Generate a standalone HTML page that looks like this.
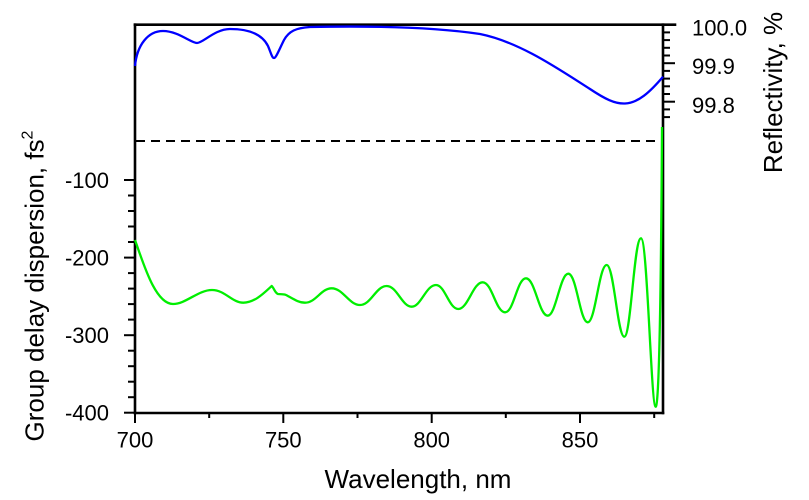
<!DOCTYPE html>
<html>
<head>
<meta charset="utf-8">
<style>
  html, body { margin:0; padding:0; background:#fff; }
  svg { display:block; }
  text { font-family: "Liberation Sans", Arial, sans-serif; fill:#000; }
</style>
</head>
<body>
<svg width="809" height="500" viewBox="0 0 809 500" xmlns="http://www.w3.org/2000/svg">
  <rect x="0" y="0" width="809" height="500" fill="#fff"/>

  <!-- dashed zero line -->
  <line x1="136" y1="141" x2="658" y2="141" stroke="#000" stroke-width="2" stroke-dasharray="9,6"/>

  <!-- frame -->
  <g stroke="#000" stroke-width="2.6" fill="none" stroke-linecap="square">
    <line x1="135" y1="24.7" x2="675" y2="24.7"/>
    <line x1="135" y1="24.7" x2="135" y2="413"/>
    <line x1="135" y1="413" x2="663" y2="413"/>
    <line x1="663" y1="24.7" x2="663" y2="413"/>
  </g>

  <!-- bottom ticks -->
  <g stroke="#000" stroke-width="2">
    <line x1="135" y1="413" x2="135" y2="423"/>
    <line x1="283.3" y1="413" x2="283.3" y2="423"/>
    <line x1="431.7" y1="413" x2="431.7" y2="423"/>
    <line x1="580" y1="413" x2="580" y2="423"/>
    <line x1="209.2" y1="413" x2="209.2" y2="418"/>
    <line x1="357.5" y1="413" x2="357.5" y2="418"/>
    <line x1="505.8" y1="413" x2="505.8" y2="418"/>
    <line x1="654.2" y1="413" x2="654.2" y2="418"/>
  </g>

  <!-- left ticks -->
  <g stroke="#000" stroke-width="2">
    <line x1="124" y1="180" x2="135" y2="180"/>
    <line x1="124" y1="257.6" x2="135" y2="257.6"/>
    <line x1="124" y1="335.2" x2="135" y2="335.2"/>
    <line x1="124" y1="412.7" x2="135" y2="412.7"/>
    <line x1="128" y1="195.5" x2="135" y2="195.5"/>
    <line x1="128" y1="211" x2="135" y2="211"/>
    <line x1="128" y1="226.5" x2="135" y2="226.5"/>
    <line x1="128" y1="242" x2="135" y2="242"/>
    <line x1="128" y1="273.1" x2="135" y2="273.1"/>
    <line x1="128" y1="288.6" x2="135" y2="288.6"/>
    <line x1="128" y1="304.1" x2="135" y2="304.1"/>
    <line x1="128" y1="319.6" x2="135" y2="319.6"/>
    <line x1="128" y1="350.7" x2="135" y2="350.7"/>
    <line x1="128" y1="366.2" x2="135" y2="366.2"/>
    <line x1="128" y1="381.7" x2="135" y2="381.7"/>
    <line x1="128" y1="397.2" x2="135" y2="397.2"/>
  </g>

  <!-- right ticks -->
  <g stroke="#000" stroke-width="2">
    <line x1="663" y1="63.2" x2="675" y2="63.2"/>
    <line x1="663" y1="101.7" x2="675" y2="101.7"/>
    <line x1="663" y1="32.4" x2="670" y2="32.4"/>
    <line x1="663" y1="40.1" x2="670" y2="40.1"/>
    <line x1="663" y1="47.8" x2="670" y2="47.8"/>
    <line x1="663" y1="55.5" x2="670" y2="55.5"/>
    <line x1="663" y1="70.9" x2="670" y2="70.9"/>
    <line x1="663" y1="78.6" x2="670" y2="78.6"/>
    <line x1="663" y1="86.3" x2="670" y2="86.3"/>
    <line x1="663" y1="94" x2="670" y2="94"/>
    <line x1="663" y1="109.4" x2="670" y2="109.4"/>
    <line x1="663" y1="117.1" x2="670" y2="117.1"/>
  </g>

  <!-- reflectivity curve (blue) -->
  <path fill="none" stroke="#0000ff" stroke-width="2.3" stroke-linejoin="round"
    d="M135,66 C137,45 148,31 163,31
       C178,31 191,43 197,43
       C203,43 215,29 230,29
       C248,29 262,34 268,46
       C271,53 272,58 274,58
       C276,58 279,50 284,40
       C289,31 296,28 310,27
       C360,26 430,26.5 480,34
       C520,42 560,70 590,89
       C605,99 615,104 625,103.5
       C638,103 650,92 663,76.7"/>

  <!-- GDD curve (green) -->
  <path fill="none" stroke="#00ee00" stroke-width="2.3" stroke-linejoin="round"
    d="M135,240 C143,262 155,304 173,304
       C186,304 198,290 212,290
       C225,290 232,302.7 243.3,302.7
       C255,302.7 265,292 271.7,286
       C274,288 275,293 278,294
       C282,294.5 284,294 286,295
       C292,298 298,302.7 305,302.7
       C316,302.7 321,288.3 331.7,288.3
       C343,288.3 349,305 360,305
       C371,305 376,286 386.7,286
       C397,286 402,306.7 411.7,306.7
       C421,306.7 426,285 436,285
       C445,285 449,309 458.3,309
       C468,309 473,282.3 482.7,282.3
       C492,282.3 496,312.3 505,312.3
       C514,312.3 517,278.3 526,278.3
       C535,278.3 539,315.7 547.7,315.7
       C556,315.7 560,273.7 568.3,273.7
       C576.5,273.7 580,322.3 587.7,322.3
       C595.5,322.3 599,265 606.7,265
       C614,265 617.5,336.7 624.3,336.7
       C631,336.7 634,238.3 641,238.3
       C647.5,238.3 651,406.7 655.7,406.7
       C659,406.7 661,300 662,127"/>

  <!-- bottom tick labels -->
  <g font-size="22" text-anchor="middle">
    <text x="135" y="447.5">700</text>
    <text x="283.3" y="447.5">750</text>
    <text x="431.7" y="447.5">800</text>
    <text x="580" y="447.5">850</text>
  </g>

  <!-- left tick labels -->
  <g font-size="22" text-anchor="end">
    <text x="109" y="188">-100</text>
    <text x="109" y="265.6">-200</text>
    <text x="109" y="343.2">-300</text>
    <text x="109" y="420.5">-400</text>
  </g>

  <!-- right tick labels -->
  <g font-size="22" text-anchor="start">
    <text x="692" y="35.5">100.0</text>
    <text x="692" y="74">99.9</text>
    <text x="692" y="113">99.8</text>
  </g>

  <!-- axis titles -->
  <text x="418" y="488" font-size="26" text-anchor="middle">Wavelength, nm</text>
  <text transform="translate(43.5,286) rotate(-90)" font-size="26" text-anchor="middle">Group delay dispersion, fs<tspan font-size="16" dy="-11">2</tspan></text>
  <text transform="translate(782,92.5) rotate(-90)" font-size="26" text-anchor="middle">Reflectivity, %</text>
</svg>
</body>
</html>
